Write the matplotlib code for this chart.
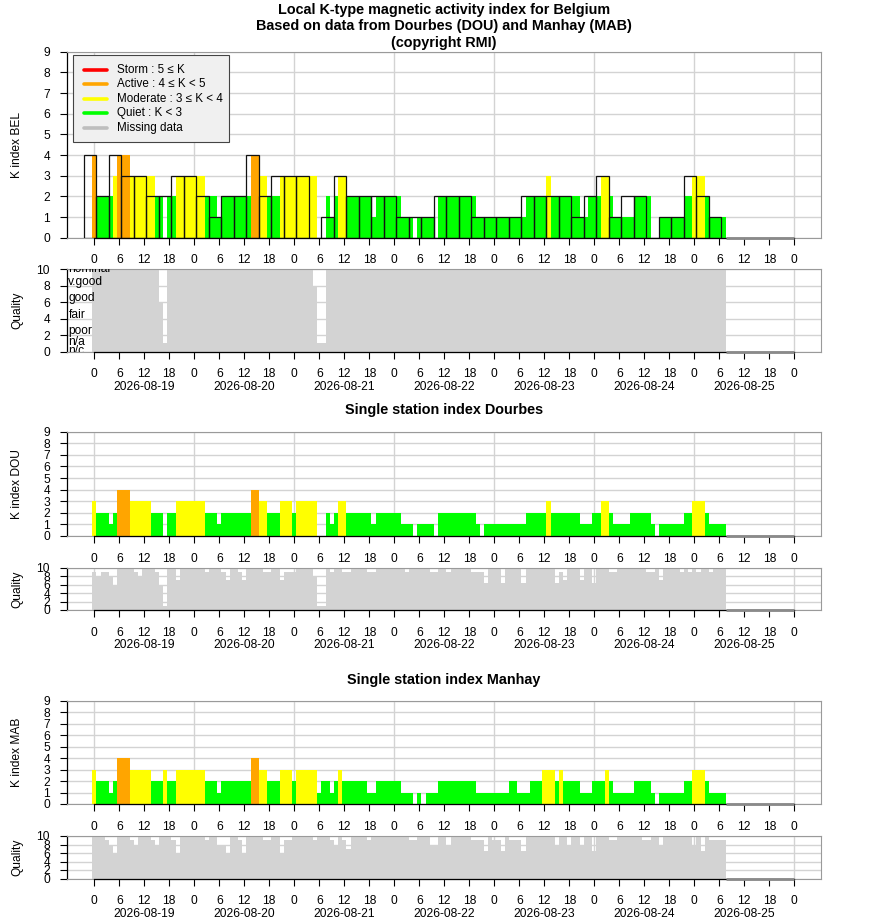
import numpy as np
import matplotlib
matplotlib.use("Agg")
import matplotlib.pyplot as plt
import matplotlib.transforms as mtransforms
from matplotlib.patches import Rectangle
from matplotlib.lines import Line2D

plt.rcParams['font.family'] = ['Liberation Sans', 'DejaVu Sans']

# ---------------- data (hours since 2026-08-19 00 UT) ----------------
hours = np.arange(152)

k_bel = [4,2,2,2,2,3,4,4,4,3,3,3,3,3,3,2,2,0,2,2,3,3,3,3,
         3,3,3,2,2,2,1,2,2,2,2,2,2,2,4,4,3,3,2,2,2,3,3,3,
         3,3,3,3,3,3,0,0,2,1,2,3,3,2,2,2,2,2,2,1,2,2,2,2,
         2,2,1,1,1,0,1,1,1,1,0,2,2,2,2,2,2,2,2,2,1,1,1,1,
         1,1,1,1,1,1,1,1,2,2,2,2,2,3,2,2,2,2,2,2,2,1,1,2,
         2,2,3,3,2,1,1,1,1,1,2,2,2,2,0,0,1,1,1,1,1,1,2,2,
         3,3,3,2,1,1,1,1]

k_dou = [3,2,2,2,1,2,4,4,4,3,3,3,3,3,2,2,2,0,2,2,3,3,3,3,
         3,3,3,2,2,2,1,2,2,2,2,2,2,2,4,4,3,3,2,2,2,3,3,3,
         2,3,3,3,3,3,0,0,2,1,2,3,3,2,2,2,2,2,2,1,2,2,2,2,
         2,2,1,1,1,0,1,1,1,1,0,2,2,2,2,2,2,2,2,2,1,0,1,1,
         1,1,1,1,1,1,1,1,2,2,2,2,2,3,2,2,2,2,2,2,2,1,1,1,
         2,2,3,3,2,1,1,1,1,2,2,2,2,2,1,0,1,1,1,1,1,1,2,2,
         3,3,3,2,1,1,1,1]

k_mab = [3,2,2,2,1,2,4,4,4,3,3,3,3,3,2,2,2,3,2,2,3,3,3,3,
         3,3,3,2,2,2,1,2,2,2,2,2,2,2,4,4,3,3,2,2,2,3,3,3,
         2,3,3,3,3,3,1,2,2,1,2,3,2,2,2,2,2,2,1,1,2,2,2,2,
         2,2,1,1,1,0,1,0,1,1,1,2,2,2,2,2,2,2,2,2,1,1,1,1,
         1,1,1,1,2,2,1,1,1,2,2,2,3,3,3,2,3,2,2,2,2,1,1,1,
         2,2,2,3,2,1,1,1,1,1,2,2,2,2,1,0,1,1,1,1,1,1,2,2,
         3,3,3,2,1,1,1,1]

# 3-hour K index for Belgium (periods centred at -1, 2, 5, ... h)
k3_centers = np.arange(51) * 3 - 1
k3_bel = [4,2,4,3,3,2,2,3,3,2,1,2,2,4,2,3,3,3,0,1,3,2,2,2,2,1,
          1,1,2,2,2,1,1,1,1,2,2,2,2,1,2,3,1,2,2,0,1,1,3,2,1]

q_bel = [10,10,10,10,10,10,10,10,10,10,10,10,10,10,10,10,6,1,10,10,10,10,10,10,
         10,10,10,10,10,10,10,10,10,10,10,10,10,10,10,10,10,10,10,10,10,10,10,10,
         10,10,10,10,10,8,1,1,10,10,10,10,10,10,10,10,10,10,10,10,10,10,10,10,
         10,10,10,10,10,10,10,10,10,10,10,10,10,10,10,10,10,10,10,10,10,10,10,10,
         10,10,10,10,10,10,10,10,10,10,10,10,10,10,10,10,10,10,10,10,10,10,10,10,
         10,10,10,10,10,10,10,10,10,10,10,10,10,10,10,10,10,10,10,10,10,10,10,10,
         10,10,10,10,10,10,10,10]

q_dou = [9,8,9,9,8,6,10,10,10,10,9,8,10,10,10,9,6,1,10,10,7,10,10,10,
         10,10,10,9,10,10,10,9,7,10,10,9,7,10,10,10,10,9,9,10,10,7,9,9,
         9,10,10,10,10,8,1,1,10,9,10,10,9,9,10,10,10,10,9,9,10,10,10,10,
         10,10,10,9,10,10,10,10,10,9,9,10,10,9,10,10,10,10,10,9,9,9,6.5,10,
         10,10,6.5,10,10,10,10,6.5,10,10,10,10,10,10,10,6.5,9,7,10,10,10,7,10,10,
         6.5,10,10,10,9,9,10,10,10,10,10,10,10,9,9,10,7,10,10,10,10,9,10,9,
         10,9,10,10,9,10,10,10]

q_mab = [10,10,10,9,8,6,10,10,10,9,8,10,10,10,9,8,10,10,10,9,6,10,10,10,
         10,10,10,9,10,10,8,8,6,10,10,9,6,10,10,10,10,9,9,10,10,6,9,9,
         10,10,10,10,10,9,10,10,10,9,8,10,9,7,10,10,10,10,9,10,10,10,10,10,
         10,10,10,10,9,9,10,10,10,8,8,10,10,8,10,10,10,10,10,9,9,9,6.5,10,
         9,9,6.5,10,9,9,9,6.5,10,10,10,10,10,10,10,8,10,10,8,10,10,8,10,10,
         6.5,10,10,10,9,9,10,10,10,10,10,10,9,9,10,10,8,10,10,10,10,10,10,10,
         8,10,6.5,10,9,9,9,9]

dates = ['2026-08-19', '2026-08-20', '2026-08-21', '2026-08-22',
         '2026-08-23', '2026-08-24', '2026-08-25']

legend_labels = ['Storm : 5 \u2264 K', 'Active : 4 \u2264 K < 5',
                 'Moderate : 3 \u2264 K < 4', 'Quiet : K < 3', 'Missing data']
quality_names = ['nominal', 'v.good', 'good', 'fair', 'poor', 'n/a', 'n/c']
quality_levels = [10, 8.5, 6.5, 4.5, 2.5, 1.1, 0.0]

# ---------------- styling ----------------
W, H = 880, 924
fig = plt.figure(figsize=(W / 100, H / 100), dpi=100)
L, R = 66.7, 821.0
XMIN, XMAX = -6.62, 174.4
FS = 8.64
GRID = '#D3D3D3'
FRAME = '#9a9a9a'
QGRAY = '#D3D3D3'
C_RED, C_ORANGE, C_YELLOW, C_GREEN, C_MISS = '#FF0000', '#FFA500', '#FFFF00', '#00FF00', '#BEBEBE'
END_DATA = 151.5


def kcolor(k):
    if k >= 5:
        return C_RED
    if k >= 4:
        return C_ORANGE
    if k >= 3:
        return C_YELLOW
    return C_GREEN


def fx(px):
    return px / W


def fy(py):
    return 1 - py / H


def axes_px(top, bottom):
    return fig.add_axes([fx(L), fy(bottom), (R - L) / W, (bottom - top) / H])


xticks = np.arange(0, 169, 6)


def style(ax, ymax, yticks, with_dates=False):
    ax.set_xlim(XMIN, XMAX)
    ax.set_ylim(0, ymax)
    for s in ax.spines.values():
        s.set_color(FRAME)
        s.set_linewidth(0.8)
    ax.spines['left'].set_color('black')
    ax.spines['left'].set_linewidth(0.9)
    ax.plot([0, 168], [0, 0], color='black', lw=0.9, clip_on=False, zorder=6)
    ax.set_yticks(yticks)
    ax.set_yticklabels([str(int(v)) for v in yticks])
    ax.set_xticks(xticks)
    ax.set_xticklabels([str(t % 24) for t in xticks])
    ax.tick_params(direction='out', length=5, width=0.8, colors='black',
                   labelsize=FS, pad=7)
    for g in yticks:
        ax.axhline(g, color=GRID, lw=1, zorder=0)
    for dd in range(0, 169, 24):
        ax.axvline(dd, color=GRID, lw=1, zorder=0)
    ax.plot([END_DATA, 168], [0, 0], color='#8a8a8a', lw=2, clip_on=False,
            zorder=7, solid_capstyle='butt')
    if with_dates:
        tr = mtransforms.offset_copy(ax.get_xaxis_transform(), fig=fig,
                                     x=0, y=-35.5 * 0.72, units='points')
        for d, lab in enumerate(dates):
            ax.text(24 * d + 12, 0, lab, transform=tr, ha='center',
                    va='center', fontsize=FS, clip_on=False)


def kpanel(top, bottom, kvals, ylabel):
    ax = axes_px(top, bottom)
    ax.bar(hours, kvals, width=1.0, color=[kcolor(v) for v in kvals],
           linewidth=0, zorder=2)
    style(ax, 9, np.arange(0, 10))
    fig.text(fx(17.5), fy((top + bottom) / 2), ylabel, rotation=90,
             ha='center', va='center', fontsize=FS)
    return ax


def qpanel(top, bottom, qvals):
    ax = axes_px(top, bottom)
    ax.bar(hours, qvals, width=1.0, color=QGRAY, linewidth=0, zorder=2)
    style(ax, 10, np.arange(0, 11, 2), with_dates=True)
    fig.text(fx(17.5), fy((top + bottom) / 2), 'Quality', rotation=90,
             ha='center', va='center', fontsize=FS)
    return ax


# ---------------- titles ----------------
TFS = 10.4
fig.text(fx(444), fy(10), 'Local K-type magnetic activity index for Belgium',
         ha='center', va='center', fontsize=TFS, weight='bold')
fig.text(fx(444), fy(26), 'Based on data from Dourbes (DOU) and Manhay (MAB)',
         ha='center', va='center', fontsize=TFS, weight='bold')
fig.text(fx(444), fy(43), '(copyright RMI)',
         ha='center', va='center', fontsize=TFS, weight='bold')
fig.text(fx(444), fy(410), 'Single station index Dourbes',
         ha='center', va='center', fontsize=TFS, weight='bold')
fig.text(fx(444), fy(680), 'Single station index Manhay',
         ha='center', va='center', fontsize=TFS, weight='bold')

# ---------------- Belgium panel ----------------
ax1 = kpanel(51.7, 237.7, k_bel, 'K index BEL')
ax1.bar(k3_centers, k3_bel, width=3.0, fill=False, edgecolor='#111111',
        linewidth=0.9, zorder=3)

# legend (drawn manually)
fig.add_artist(Rectangle((fx(73.3), fy(141.7)), (229 - 73.3) / W, (141.7 - 55) / H,
                         transform=fig.transFigure, facecolor='#F0F0F0',
                         edgecolor='#444444', lw=0.8, zorder=10))
leg_colors = [C_RED, C_ORANGE, C_YELLOW, C_GREEN, C_MISS]
for i, (lab, col) in enumerate(zip(legend_labels, leg_colors)):
    yy = 70 + i * 14.4
    fig.add_artist(Line2D([fx(84), fx(107)], [fy(yy), fy(yy)], transform=fig.transFigure,
                          color=col, lw=2.6, solid_capstyle='round', zorder=11))
    fig.text(fx(117.3), fy(yy), lab, ha='left', va='center', fontsize=8.4, zorder=12)

ax2 = qpanel(269.3, 351.5, q_bel)
for name, lev in zip(quality_names, quality_levels):
    ax2.text(-6.2, lev, name, ha='left', va='center', fontsize=FS,
             clip_on=True, zorder=8)

# ---------------- Dourbes ----------------
kpanel(431.7, 536.0, k_dou, 'K index DOU')
qpanel(567.7, 610.0, q_dou)

# ---------------- Manhay ----------------
kpanel(700.7, 804.0, k_mab, 'K index MAB')
qpanel(836.0, 878.5, q_mab)

fig.savefig('out.png', dpi=100)
